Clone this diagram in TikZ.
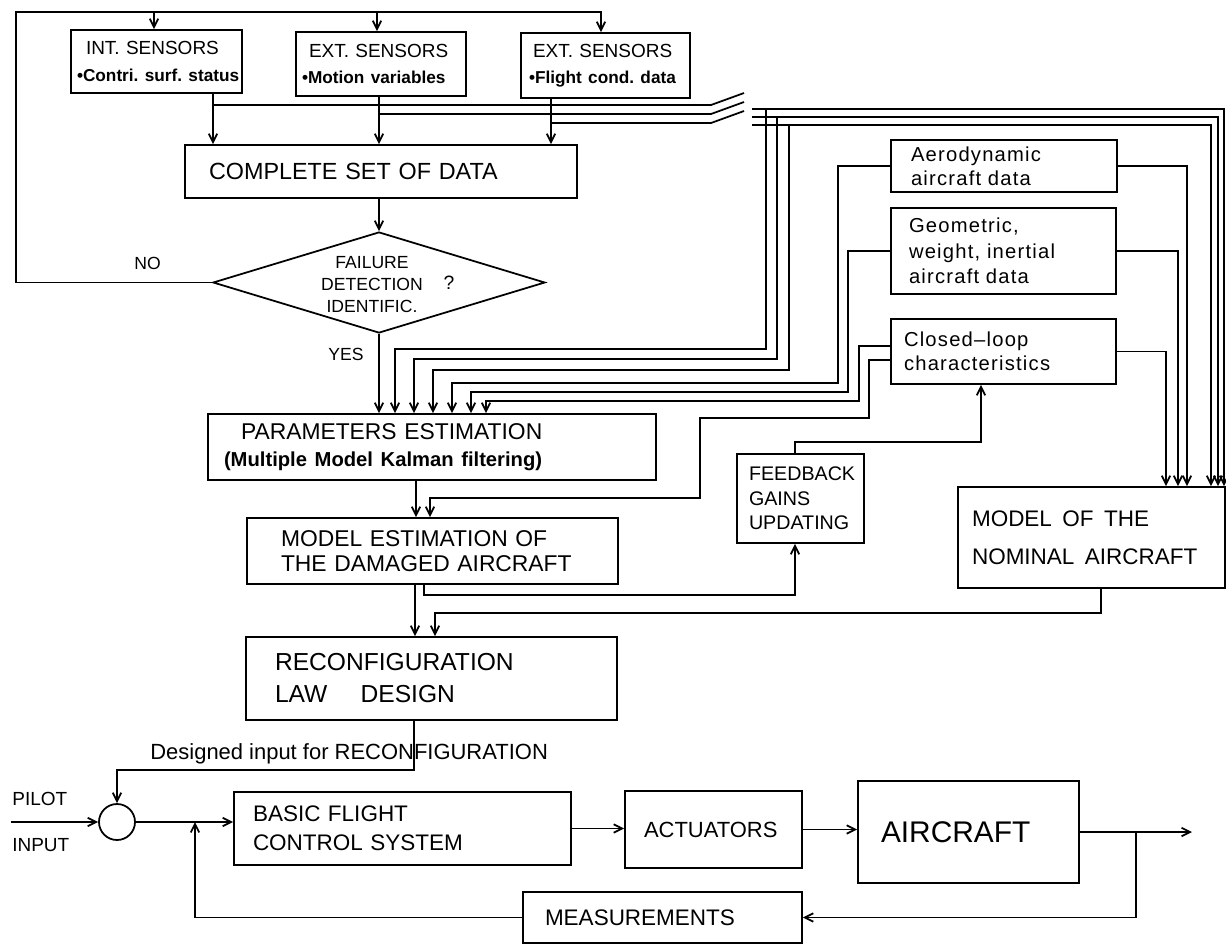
\documentclass[tikz,border=0pt]{standalone}
\usepackage{fontspec}
\setmainfont{Liberation Sans}
\newfontfamily\wideface[LetterSpace=6]{Liberation Sans}
\usetikzlibrary{arrows.meta,shapes.geometric}
\frenchspacing

\tikzset{
    blk/.style={draw, line width=1pt, align=left, inner ysep=0pt},
    conn/.style={line width=1pt},
    arr/.style={conn, -{Straight Barb[length=1.7mm,width=1.7mm]}},
    lbl/.style={inner sep=0pt, anchor=west},
    sensfont/.style={font=\fontsize{10.8}{15}\selectfont},
}
\newcommand\bulletline[1]{\mbox{\bfseries\fontsize{9.8}{12}\selectfont •#1}}

\begin{document}
\begin{tikzpicture}[x=0.2mm, y=-0.2mm]
    \useasboundingbox (0,0) rectangle (1226,945);

    % Sensori
    \node[blk, sensfont, text width=31.8mm, inner xsep=1.2mm, minimum height=12.6mm] (intsens) at (156.5,61.5)
        {\hspace*{1.8mm}INT. SENSORS\\\bulletline{Contri. surf. status}};
    \node[blk, sensfont, text width=31.6mm, inner xsep=1.2mm, minimum height=12.8mm] (extsens) at (381,64)
        {\hspace*{1.4mm}EXT. SENSORS\\\bulletline{Motion variables}};
    \node[blk, sensfont, text width=30.6mm, inner xsep=1.6mm, minimum height=13mm] (flightsens) at (605.5,65.5)
        {\hspace*{0.8mm}EXT. SENSORS\\\bulletline{Flight cond. data}};

    % Blocchi
    \node[blk, text width=68.8mm, inner xsep=4.8mm, minimum height=10.6mm, font=\fontsize{13.3}{16}\selectfont] (complete) at (381,171.5) {COMPLETE SET OF DATA};
    \node[draw, diamond, line width=1pt, minimum width=66.4mm, minimum height=20.2mm, inner sep=0pt] (fdi) at (379,282.5) {};
    \node[align=center, inner sep=0pt, font=\fontsize{10}{12.5}\selectfont] (fditxt) at (372,285) {FAILURE\\DETECTION\\IDENTIFIC.};
    \node[inner sep=0pt, font=\fontsize{11}{13}\selectfont] (qmark) at (449,283) {?};
    \node[blk, text width=83.2mm, inner xsep=3.2mm, minimum height=13.2mm, font=\fontsize{13}{15.4}\selectfont] (param) at (432,447)
        {\hspace*{3.4mm}PARAMETERS ESTIMATION\\{\bfseries\fontsize{11.5}{13}\selectfont (Multiple Model Kalman filtering)}};
    \node[blk, text width=60.6mm, inner xsep=6.8mm, minimum height=13.2mm, font=\fontsize{13}{14.5}\selectfont] (modest) at (432.5,551)
        {MODEL ESTIMATION OF\\THE DAMAGED AIRCRAFT};
    \node[blk, text width=62.6mm, inner xsep=5.8mm, minimum height=16.6mm, font=\fontsize{14}{18.2}\selectfont] (reconf) at (431.5,678.5)
        {RECONFIGURATION\\LAW\hspace{5mm} DESIGN};
    \node[blk, text width=37.2mm, inner xsep=4mm, minimum height=10.4mm, font=\wideface\fontsize{11.5}{13.7}\selectfont] (aero) at (1004,166)
        {Aerodynamic\\aircraft data};
    \node[blk, text width=37.8mm, inner xsep=3.6mm, minimum height=17.2mm, font=\wideface\fontsize{11.5}{14.5}\selectfont] (geom) at (1003.5,251)
        {Geometric,\\weight, inertial\\aircraft data};
    \node[blk, text width=39.8mm, inner xsep=2.6mm, minimum height=13mm, font=\wideface\fontsize{11.5}{13.7}\selectfont] (closed) at (1003.5,351.5)
        {Closed–loop\\characteristics};
    \node[blk, text width=20.6mm, inner xsep=2.4mm, minimum height=17.8mm, font=\fontsize{11.2}{14}\selectfont] (feedback) at (800.5,498.5)
        {FEEDBACK\\GAINS\\UPDATING};
    \node[blk, text width=47.8mm, inner xsep=2.8mm, minimum height=20.2mm, font=\fontsize{12.8}{21.6}\selectfont] (nominal) at (1091.5,537.5)
        {MODEL\hspace{0.6mm} OF\hspace{0.6mm} THE\\NOMINAL\hspace{0.6mm} AIRCRAFT};

    % Anello di controllo
    \node[draw, circle, line width=1pt, minimum size=7.2mm, inner sep=0pt] (sum) at (117,822) {};
    \node[blk, text width=59.8mm, inner xsep=3.8mm, minimum height=14.6mm, font=\fontsize{12.8}{16.5}\selectfont] (basic) at (402.5,828.5)
        {BASIC FLIGHT\\CONTROL SYSTEM};
    \node[blk, text width=27.8mm, inner xsep=3.8mm, minimum height=15.4mm, font=\fontsize{12.5}{15}\selectfont] (actuators) at (713.5,829.5) {ACTUATORS};
    \node[blk, text width=35mm, inner xsep=4.6mm, minimum height=20.4mm, font=\fontsize{17}{20}\selectfont] (aircraft) at (968.5,832) {AIRCRAFT};
    \node[blk, text width=47mm, inner xsep=4.4mm, minimum height=10.2mm, font=\fontsize{12.8}{15}\selectfont] (meas) at (662.5,917.5) {MEASUREMENTS};

    % Collegamenti: sensori
    \draw[arr] (fdi.west) -- (16,0 |- fdi.west) |- (601,12) -- (601,0 |- flightsens.north);
    \draw[arr] (154,12) -- (154,0 |- intsens.north);
    \draw[arr] (377,12) -- (377,0 |- extsens.north);
    \draw[arr] (213,0 |- intsens.south) -- (213,0 |- complete.north);
    \draw[arr] (379,0 |- extsens.south) -- (379,0 |- complete.north);
    \draw[arr] (551,0 |- flightsens.south) -- (551,0 |- complete.north);
    \draw[arr] (complete.south -| fdi.north) -- (fdi.north);

    % Bus dei dati
    \draw[conn] (213,105) -- (711,105) -- ++(33,-12);
    \draw[conn] (379,114) -- (711,114) -- ++(33,-12);
    \draw[conn] (551,123) -- (711,123) -- ++(33,-12);
    \draw[arr] (752,109) -- (1224,109) -- (1224,0 |- nominal.north);
    \draw[arr] (752,117) -- (1218,117) -- (1218,0 |- nominal.north);
    \draw[arr] (752,125) -- (1211,125) -- (1211,0 |- nominal.north);
    \draw[arr] (766,109) |- (395,349) -- (395,0 |- param.north);
    \draw[arr] (777,117) |- (414,359) -- (414,0 |- param.north);
    \draw[arr] (789,125) |- (433,370) -- (433,0 |- param.north);

    % Dati del velivolo
    \draw[arr] (aero.west) -| (838,383) -| (452,0 |- param.north);
    \draw[arr] (geom.west) -| (848,392) -| (471,0 |- param.north);
    \draw[arr] (closed.west |- 0,346) -| (859,401) -| (486,0 |- param.north);
    \draw[arr] (closed.west |- 0,360) -| (869,418) -| (700,498) -| (430,0 |- modest.north);
    \draw[arr] (aero.east) -| (1187,0 |- nominal.north);
    \draw[arr] (geom.east) -| (1178,0 |- nominal.north);
    \draw[arr] (closed.east) -| (1166,0 |- nominal.north);

    % Stima e riconfigurazione
    \draw[arr] (fdi.south) -- (fdi.south |- param.north);
    \draw[arr] (416,0 |- param.south) -- (416,0 |- modest.north);
    \draw[arr] (424,0 |- modest.south) |- (795,595) -- (795,0 |- feedback.south);
    \draw[arr] (795,0 |- feedback.north) |- (981,442) -- (981,0 |- closed.south);
    \draw[arr] (415,0 |- modest.south) -- (415,0 |- reconf.north);
    \draw[arr] (1101,0 |- nominal.south) |- (435,613) -- (435,0 |- reconf.north);
    \draw[arr] (414,0 |- reconf.south) |- (sum.north |- 0,770) -- (sum.north);

    % Anello
    \draw[arr] (11,0 |- sum.west) -- (sum.west);
    \draw[arr] (sum.east) -- (sum.east -| basic.west);
    \draw[arr] (meas.west) -| (195,0 |- sum.east);
    \draw[arr] (basic.east) -- (basic.east -| actuators.west);
    \draw[arr] (actuators.east) -- (actuators.east -| aircraft.west);
    \draw[arr] (aircraft.east) -- (1192,0 |- aircraft.east);
    \draw[arr] (1136,0 |- aircraft.east) |- (meas.east);

    % Etichette
    \node[lbl, font=\fontsize{10}{12}\selectfont] (nolbl) at (134,263) {NO};
    \node[lbl, font=\fontsize{10}{12}\selectfont] (yeslbl) at (328,354) {YES};
    \node[lbl, font=\fontsize{12.5}{15}\selectfont] (deslbl) at (150,754) {Designed input for RECONFIGURATION};
    \node[lbl, font=\fontsize{10.8}{13}\selectfont] (pilotlbl) at (12,799) {PILOT};
    \node[lbl, font=\fontsize{10.8}{13}\selectfont] (inputlbl) at (12,845) {INPUT};
\end{tikzpicture}
\end{document}
